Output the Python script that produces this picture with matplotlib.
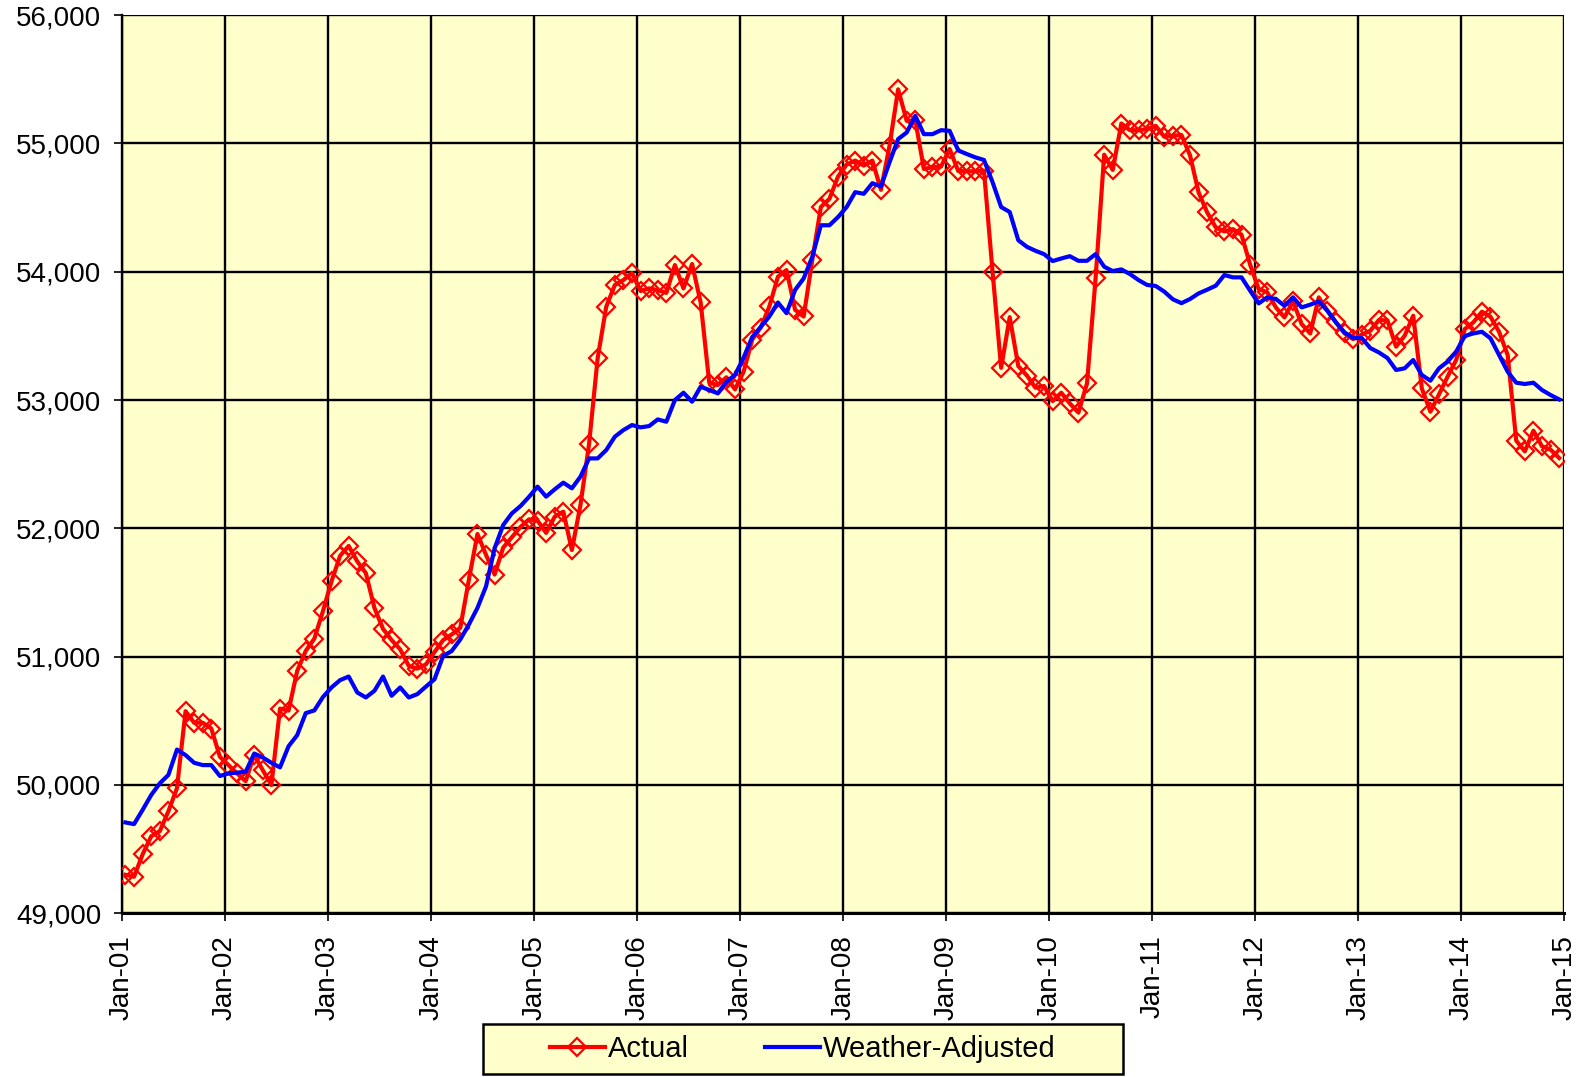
import matplotlib
matplotlib.use("Agg")
import matplotlib.pyplot as plt
from matplotlib.patches import Rectangle
import numpy as np

plt.rcParams['font.family'] = ['Liberation Sans', 'DejaVu Sans']

# monthly values, Jan-01 .. Dec-14
actual = [
    49300, 49285, 49460, 49600, 49640, 49795, 49975, 50575, 50485, 50485, 50440, 50220,
    50155, 50090, 50030, 50235, 50115, 50000, 50595, 50580, 50888, 51045, 51140, 51354,
    51587, 51786, 51863, 51742, 51651, 51380, 51217, 51129, 51057, 50928, 50907, 50940,
    51036, 51129, 51173, 51225, 51599, 51956, 51793, 51640, 51850, 51930, 52010, 52070,
    52060, 51965, 52091, 52130, 51831, 52182, 52657, 53325, 53727, 53896, 53935, 53990,
    53850, 53870, 53857, 53835, 54052, 53870, 54060, 53761, 53135, 53117, 53177, 53083,
    53220, 53470, 53565, 53729, 53961, 54013, 53703, 53651, 54090, 54504, 54568, 54742,
    54835, 54866, 54827, 54866, 54638, 54982, 55421, 55176, 55181, 54801, 54814, 54820,
    54956, 54785, 54783, 54783, 54788, 54000, 53251, 53646, 53264, 53191, 53096, 53109,
    52992, 53057, 52974, 52902, 53129, 53948, 54912, 54793, 55155, 55103, 55103, 55111,
    55137, 55052, 55059, 55066, 54907, 54618, 54462, 54345, 54314, 54332, 54288, 54055,
    53865, 53839, 53722, 53644, 53769, 53592, 53519, 53800, 53696, 53605, 53519, 53475,
    53510, 53540, 53623, 53620, 53416, 53501, 53657, 53091, 52909, 53044, 53182, 53312,
    53553, 53605, 53688, 53649, 53532, 53351, 52683, 52600, 52761, 52639, 52613, 52548,
]
weather_adj = [
    49708, 49695, 49806, 49922, 50013, 50078, 50276, 50233, 50173, 50155, 50155, 50070,
    50090, 50096, 50103, 50245, 50214, 50173, 50137, 50302, 50388, 50560, 50581, 50685,
    50760, 50817, 50845, 50721, 50682, 50734, 50845, 50695, 50760, 50682, 50708, 50767,
    50824, 51005, 51044, 51134, 51250, 51380, 51548, 51845, 52026, 52116, 52173, 52245,
    52325, 52247, 52304, 52356, 52312, 52403, 52545, 52545, 52610, 52714, 52766, 52805,
    52787, 52797, 52849, 52831, 53000, 53057, 52987, 53104, 53078, 53052, 53143, 53195,
    53330, 53490, 53570, 53651, 53760, 53677, 53858, 53948, 54116, 54362, 54362, 54426,
    54504, 54620, 54607, 54690, 54664, 54853, 55034, 55085, 55214, 55072, 55072, 55103,
    55098, 54945, 54917, 54891, 54871, 54698, 54504, 54465, 54245, 54194, 54163, 54137,
    54083, 54103, 54121, 54085, 54085, 54137, 54039, 54005, 54018, 53982, 53935, 53897,
    53889, 53845, 53785, 53755, 53787, 53831, 53860, 53891, 53974, 53956, 53956, 53852,
    53753, 53800, 53787, 53735, 53800, 53722, 53743, 53769, 53696, 53605, 53527, 53483,
    53483, 53405, 53371, 53327, 53234, 53247, 53312, 53195, 53151, 53247, 53299, 53377,
    53499, 53519, 53532, 53481, 53351, 53221, 53135, 53125, 53135, 53078, 53039, 53005,
]
years = list(range(2001, 2016))
year_labels = ["Jan-%02d" % (y % 100) for y in years]

# month positions in fractional years (points sit a little after the month start)
x = 2001 + (np.arange(len(actual)) + 0.4) / 12.0

fig = plt.figure(figsize=(15.93, 10.77), dpi=100)
ax = fig.add_axes([0.0766, 0.152, 0.9054, 0.834])
ax.set_facecolor('#FFFFCC')

ax.plot(x, actual, color='#FF0000', lw=3, marker='D', ms=9, mfc='none',
        mec='#FF0000', mew=1.6, label='Actual', zorder=3)
ax.plot(x, weather_adj, color='#0000FF', lw=3, label='Weather-Adjusted', zorder=4)

ax.set_xlim(2001, 2015)
ax.set_ylim(49000, 56000)
ax.set_xticks(years)
ax.set_xticklabels(year_labels, rotation=90, fontsize=20)
ax.set_yticks(range(49000, 56001, 1000))
ax.set_yticklabels(["{:,}".format(v) for v in range(49000, 56001, 1000)], fontsize=20)
ax.grid(True, color='black', lw=1.7)
ax.set_axisbelow(True)
ax.tick_params(direction='out', length=6, width=1.2, color='black')
ax.tick_params(axis='y', pad=9)
ax.tick_params(axis='x', pad=10)
for s in ['top', 'right']:
    ax.spines[s].set_visible(False)
ax.spines['left'].set_linewidth(1.7)
ax.spines['bottom'].set_linewidth(2.2)

# legend box drawn separately so it can be wider than its contents
fig.patches.append(Rectangle((0.303, 0.003), 0.402, 0.046, transform=fig.transFigure,
                             facecolor='#FFFFCC', edgecolor='black', lw=1.8, zorder=0))
leg = fig.legend(loc='center', bbox_to_anchor=(0.504, 0.026), ncol=2, fontsize=21,
                 frameon=False, handlelength=1.9, columnspacing=2.6, handletextpad=0.1,
                 borderaxespad=0)

fig.savefig("out.png", dpi=100)
